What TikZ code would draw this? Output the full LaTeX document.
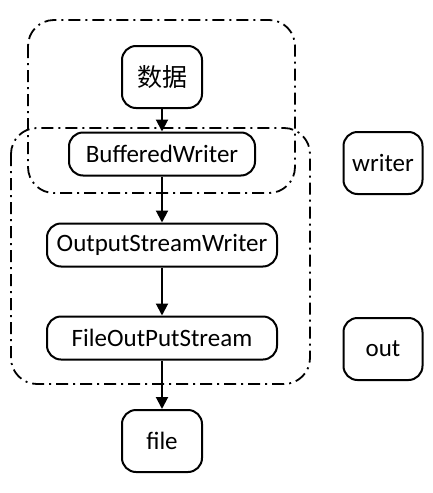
\documentclass[tikz,border=0pt]{standalone}
\usepackage{fontspec}
\setmainfont{Carlito}
\newfontfamily\cjk{Noto Sans CJK SC}
\usetikzlibrary{arrows.meta,positioning}
\tikzset{
  box/.style   = {draw, line width=2pt, rectangle, rounded corners=14pt,
                  align=center, font=\fontsize{25}{29}\selectfont, inner sep=2pt},
  small/.style = {box, minimum width=80pt, minimum height=62pt},
  wide/.style  = {box, minimum height=43pt},
  flow/.style  = {-{Triangle[length=12pt,width=12pt]}, line width=2pt},
  group/.style = {line width=1.8pt, rounded corners=26pt,
                  dash pattern=on 12pt off 5pt on 2pt off 5pt},
}
\begin{document}
\begin{tikzpicture}[x=1pt,y=-1pt]
\useasboundingbox (0,0) rectangle (432,493);
% dash-dot groups
\draw[group] (28,20) rectangle (295,193);
\draw[group] (11,128) rectangle (310,384);
% main chain
\node[small] (data) at (162,77) {\cjk 数据};
\node[wide, minimum width=186pt] (bw) at (162,154) {BufferedWriter};
\node[wide, minimum width=230pt] (osw) at (162,245) {OutputStreamWriter};
\node[wide, minimum width=230pt] (fos) at (162,338) {FileOutPutStream};
\node[small] (file) at (162,441) {file};
% variable names
\node[small, minimum width=79pt] (writer) at (383,163) {writer};
\node[small, minimum width=79pt] (out) at (383,349) {out};

\draw[flow] (data) -- (bw);
\draw[flow] (bw) -- (osw);
\draw[flow] (osw) -- (fos);
\draw[flow] (fos) -- (file);
\end{tikzpicture}
\end{document}
